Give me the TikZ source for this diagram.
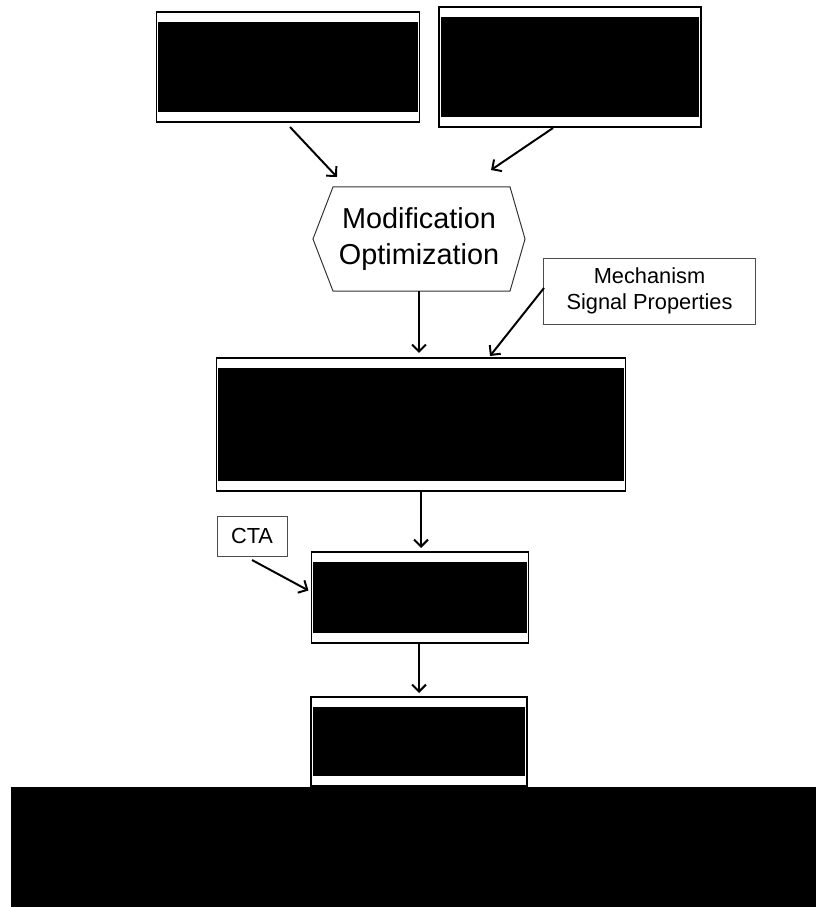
\documentclass[tikz,border=0pt]{standalone}
\usepackage{fontspec}
\setmainfont{Liberation Sans}
\usetikzlibrary{arrows.meta,positioning,calc}

\begin{document}
\begin{tikzpicture}[x=0.025cm,y=-0.025cm,
  imgbox/.style={draw=black,line width=1pt,fill=white,rectangle,inner sep=0pt,outer sep=0pt,
                 path picture={\fill[black] ($(path picture bounding box.north west)+(2,10)$)
                   rectangle ($(path picture bounding box.south east)+(-2,-10)$);}},
  label/.style={draw=black!70,line width=0.7pt,fill=white,rectangle,inner sep=0pt,outer sep=0pt,
                align=center,font=\fontsize{15.5}{18.6}\selectfont},
  arr/.style={-{Straight Barb[length=5pt,width=10pt]},line width=1.4pt,draw=black}
]
  \useasboundingbox (0,0) rectangle (816,907);
  % Source boxes
  \node[imgbox,minimum width=6.575cm,minimum height=2.75cm] (boxa) at (288,67) {};
  \node[imgbox,minimum width=6.55cm,minimum height=3cm] (boxb) at (570,67) {};
  % Hexagon
  \node[rectangle,inner sep=0pt,outer sep=0pt,minimum width=5.3cm,minimum height=2.6cm,
        align=center,font=\fontsize{20.5}{26}\selectfont] (hex) at (419,239) {Modification\\Optimization};
  \draw[black!80,line width=0.7pt] (hex.west) -- ($(hex.north west)+(20,0)$) -- ($(hex.north east)+(-15,0)$)
    -- (hex.east) -- ($(hex.south east)+(-15,0)$) -- ($(hex.south west)+(20,0)$) -- cycle;
  % Side labels
  \node[label,minimum width=5.275cm,minimum height=1.65cm] (mech) at (649.5,291) {Mechanism\\Signal Properties};
  \node[label,minimum width=1.75cm,minimum height=1cm] (cta) at (252,536) {CTA};
  % Main chain
  \node[imgbox,minimum width=10.225cm,minimum height=3.325cm] (boxc) at (421,424.5) {};
  \node[imgbox,minimum width=5.425cm,minimum height=2.275cm] (boxd) at (420,597.5) {};
  \node[imgbox,minimum width=5.4cm,minimum height=2.225cm] (boxe) at (419,741.5) {};
  \node[fill=black,rectangle,inner sep=0pt,outer sep=0pt,minimum width=20.125cm,minimum height=3cm] (boxf) at (413.5,847) {};
  % Flows
  \draw[arr] ($(boxa.south)+(2,5)$) -- ($(hex.north west)+(24,-10)$);
  \draw[arr] ($(boxb.south)+(-17,1)$) -- ($(hex.north east)+(-34,-17)$);
  \draw[arr] (hex.south) -- ($(hex.south |- boxc.north)+(0,-5)$);
  \draw[arr] ($(mech.west)+(0,-3)$) -- ($(boxc.north)+(69,-2)$);
  \draw[arr] (boxc.south) -- ($(boxc.south |- boxd.north)+(0,-4)$);
  \draw[arr] ($(cta.south)+(0,4)$) -- ($(boxd.west)+(-3,-7)$);
  \draw[arr] ($(boxe.north |- boxd.south)$) -- ($(boxe.north)+(0,-4)$);
\end{tikzpicture}
\end{document}
